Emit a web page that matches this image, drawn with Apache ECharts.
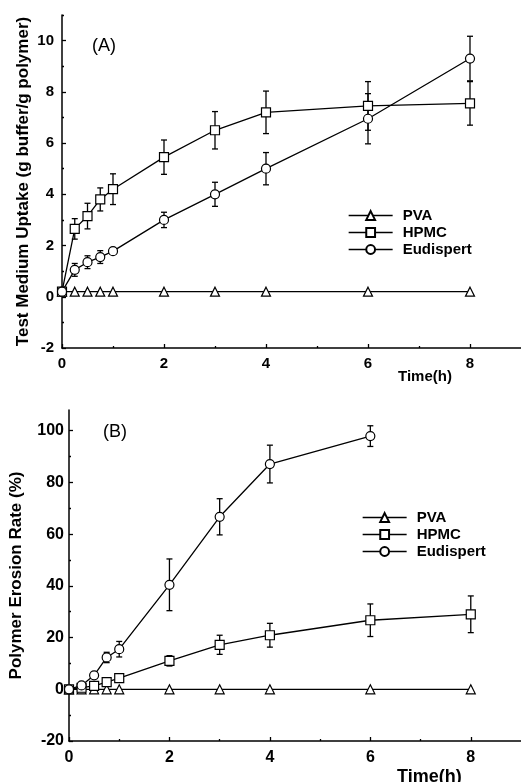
<!DOCTYPE html>
<html>
<head>
<meta charset="utf-8">
<script src="https://cdn.jsdelivr.net/npm/echarts@6/dist/echarts.min.js"></script>
<style>
  html, body { margin: 0; padding: 0; background: #fff; }
  #chart { width: 521px; height: 782px; }
</style>
</head>
<body>
<div id="chart"></div>
<script>
// panel A: test medium uptake (g buffer / g polymer)
const timeA = [0, 0.25, 0.5, 0.75, 1, 2, 3, 4, 6, 8];
const pvaA = [0.2, 0.2, 0.2, 0.2, 0.2, 0.2, 0.2, 0.2, 0.2, 0.2];
const hpmcA = [0.2, 2.65, 3.15, 3.8, 4.2, 5.45, 6.5, 7.2, 7.45, 7.55];
const hpmcAErr = [0, 0.4, 0.5, 0.45, 0.6, 0.67, 0.73, 0.83, 0.95, 0.85];
const eudA = [0.2, 1.05, 1.35, 1.55, 1.78, 3.0, 4.0, 5.0, 6.95, 9.3];
const eudAErr = [0, 0.25, 0.25, 0.25, 0.1, 0.3, 0.47, 0.63, 0.98, 0.87];

// panel B: polymer erosion rate (%)
const timeB = [0, 0.25, 0.5, 0.75, 1, 2, 3, 4, 6, 8];
const pvaB = [0, 0, 0, 0, 0, 0, 0, 0, 0, 0];
const hpmcB = [0, 0.6, 1.3, 2.8, 4.3, 11, 17.2, 20.9, 26.7, 29];
const hpmcBErr = [0, 0, 0, 0, 0, 2, 3.7, 4.6, 6.3, 7.1];
const timeEudB = [0, 0.25, 0.5, 0.75, 1, 2, 3, 4, 6];
const eudB = [0, 1.5, 5.4, 12.3, 15.5, 40.4, 66.7, 87.1, 97.9];
const eudBErr = [0, 0, 0, 2, 3, 10, 7, 7.3, 4];

// ticks
const xTicks = [0, 2, 4, 6, 8];
const xMinorTicks = [1, 3, 5, 7];
const yTicksA = [-2, 0, 2, 4, 6, 8, 10];
const yMinorTicksA = [-1, 1, 3, 5, 7, 9, 11];
const yTicksB = [-20, 0, 20, 40, 60, 80, 100];
const yMinorTicksB = [-10, 10, 30, 50, 70, 90];

const FONT = '"Liberation Sans", Arial, sans-serif';

const pairs = (xs, ys) => xs.map((x, i) => [x, ys[i]]);
const errData = (xs, ys, es) =>
  xs.map((x, i) => [x, ys[i] - es[i], ys[i] + es[i]]).filter((d, i) => es[i] > 0);

function errorBarItem(params, api) {
  const x = api.value(0);
  const lo = api.coord([x, api.value(1)]);
  const hi = api.coord([x, api.value(2)]);
  const cap = 3;
  const style = { stroke: '#000', lineWidth: 1.3 };
  return {
    type: 'group',
    children: [
      { type: 'line', shape: { x1: lo[0], y1: lo[1], x2: hi[0], y2: hi[1] }, style },
      { type: 'line', shape: { x1: lo[0] - cap, y1: lo[1], x2: lo[0] + cap, y2: lo[1] }, style },
      { type: 'line', shape: { x1: hi[0] - cap, y1: hi[1], x2: hi[0] + cap, y2: hi[1] }, style },
    ],
  };
}

function mainX(grid, fontSize, margin) {
  return {
    type: 'value', gridIndex: grid, min: 0, max: 9, position: 'bottom',
    axisLine: { onZero: false, lineStyle: { color: '#000', width: 1.5 } },
    axisTick: { inside: true, length: 4, customValues: xTicks, lineStyle: { color: '#000', width: 1.3 } },
    axisLabel: { customValues: xTicks, margin, color: '#000', fontFamily: FONT, fontWeight: 'bold', fontSize },
    splitLine: { show: false },
  };
}
function minorX(grid) {
  return {
    type: 'value', gridIndex: grid, min: 0, max: 9, position: 'bottom',
    axisLine: { show: false, onZero: false },
    axisTick: { inside: true, length: 2, customValues: xMinorTicks, lineStyle: { color: '#000', width: 1.3 } },
    axisLabel: { show: false },
    splitLine: { show: false },
  };
}
function mainY(grid, min, max, ticks, name, nameGap, fontSize, margin) {
  return {
    type: 'value', gridIndex: grid, min, max, position: 'left',
    name, nameLocation: 'middle', nameGap, nameMoveOverlap: false,
    nameTextStyle: { color: '#000', fontFamily: FONT, fontWeight: 'bold', fontSize: 17 },
    axisLine: { onZero: false, lineStyle: { color: '#000', width: 1.5 } },
    axisTick: { inside: true, length: 4, customValues: ticks, lineStyle: { color: '#000', width: 1.3 } },
    axisLabel: { customValues: ticks, margin, color: '#000', fontFamily: FONT, fontWeight: 'bold', fontSize },
    splitLine: { show: false },
  };
}
function minorY(grid, min, max, ticks) {
  return {
    type: 'value', gridIndex: grid, min, max, position: 'left',
    axisLine: { show: false, onZero: false },
    axisTick: { inside: true, length: 2, customValues: ticks, lineStyle: { color: '#000', width: 1.3 } },
    axisLabel: { show: false },
    splitLine: { show: false },
  };
}

function lineSeries(name, symbol, data, axis) {
  return {
    name, type: 'line', data, xAxisIndex: axis, yAxisIndex: axis,
    symbol, symbolSize: 9, showAllSymbol: true, z: 3,
    lineStyle: { color: '#000', width: 1.3 },
    itemStyle: { color: '#fff', borderColor: '#000', borderWidth: 1.2 },
    emphasis: { disabled: true },
  };
}
function errSeries(data, axis) {
  return {
    type: 'custom', renderItem: errorBarItem, data, z: 2,
    xAxisIndex: axis, yAxisIndex: axis, encode: { x: 0, y: [1, 2] },
  };
}

const legendBase = {
  orient: 'vertical', itemWidth: 44, itemHeight: 11, itemGap: 2,
  data: ['PVA', 'HPMC', 'Eudispert'],
  lineStyle: { width: 1.3 },
  textStyle: { color: '#000', fontFamily: FONT, fontWeight: 'bold', fontSize: 15, padding: [0, 0, 0, 5] },
  selectedMode: false,
};

const chart = echarts.init(document.getElementById('chart'));
chart.setOption({
  animation: false,
  backgroundColor: '#fff',
  grid: [
    { left: 62, top: 15, width: 468, height: 333 },
    { left: 69, top: 410, width: 465, height: 331 },
  ],
  xAxis: [mainX(0, 15, 8), mainX(1, 16, 9), minorX(0), minorX(1)],
  yAxis: [
    mainY(0, -2, 11, yTicksA, 'Test Medium Uptake (g buffer/g polymer)', 30, 15, 8),
    mainY(1, -20, 108, yTicksB, 'Polymer Erosion Rate (%)', 44, 16, 5),
    minorY(0, -2, 11, yMinorTicksA),
    minorY(1, -20, 108, yMinorTicksB),
  ],
  legend: [
    Object.assign({ left: 343, top: 203 }, legendBase),
    Object.assign({ left: 357, top: 505 }, legendBase),
  ],
  graphic: [
    { type: 'text', left: 92, top: 37, style: { text: '(A)', font: '18px ' + FONT, fill: '#000' } },
    { type: 'text', left: 103, top: 423, style: { text: '(B)', font: '18px ' + FONT, fill: '#000' } },
    { type: 'text', left: 398, top: 369, style: { text: 'Time(h)', font: 'bold 15px ' + FONT, fill: '#000' } },
    { type: 'text', left: 397, top: 768, style: { text: 'Time(h)', font: 'bold 18px ' + FONT, fill: '#000' } },
  ],
  series: [
    errSeries(errData(timeA, hpmcA, hpmcAErr), 0),
    errSeries(errData(timeA, eudA, eudAErr), 0),
    lineSeries('PVA', 'triangle', pairs(timeA, pvaA), 0),
    lineSeries('HPMC', 'rect', pairs(timeA, hpmcA), 0),
    lineSeries('Eudispert', 'circle', pairs(timeA, eudA), 0),
    errSeries(errData(timeB, hpmcB, hpmcBErr), 1),
    errSeries(errData(timeEudB, eudB, eudBErr), 1),
    lineSeries('PVA', 'triangle', pairs(timeB, pvaB), 1),
    lineSeries('HPMC', 'rect', pairs(timeB, hpmcB), 1),
    lineSeries('Eudispert', 'circle', pairs(timeEudB, eudB), 1),
  ],
});
</script>
</body>
</html>
